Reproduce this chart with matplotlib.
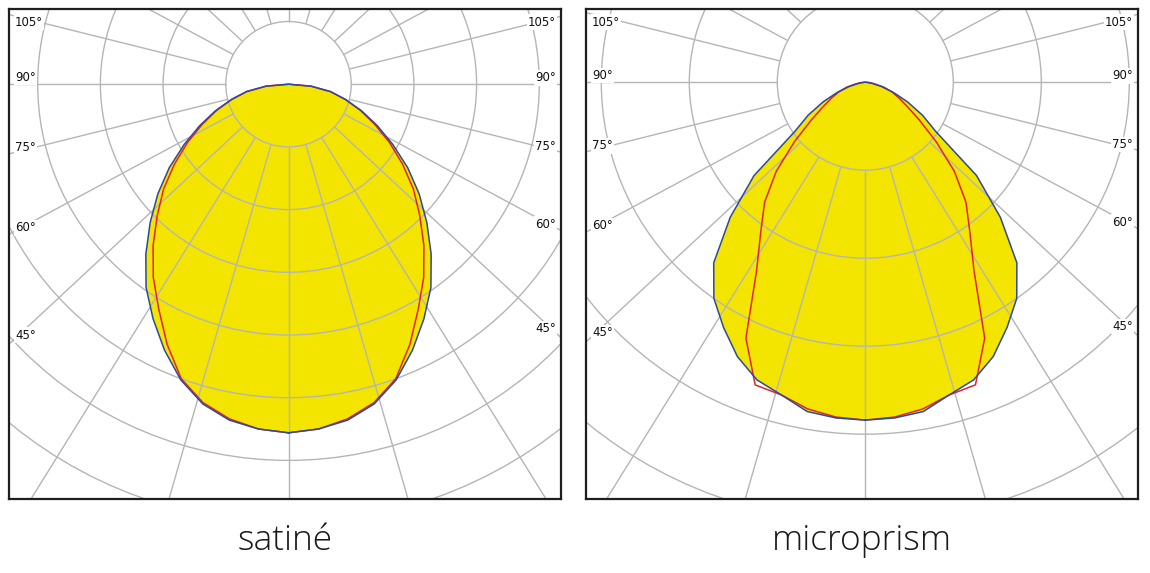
import numpy as np
import matplotlib.pyplot as plt
from matplotlib.patches import Circle

# angles from nadir (deg), 5 deg steps, curves are symmetric
angles = np.arange(0, 95, 5)

# satiné, grid step 50 (cd/klm)
satine_step = 50
satine_c0 = [278, 276, 272, 264, 251, 234, 216, 198, 177, 156, 136, 116, 96, 78, 62, 47, 34, 18, 0]
satine_c90 = [278, 276, 271, 263, 250, 229, 207, 188, 168, 148, 130, 111, 93, 76, 61, 47, 34, 18, 0]

# microprism, grid step 100 (cd/klm)
prism_step = 100
prism_c0 = [384, 383, 380, 368, 360, 344, 322, 300, 268, 217, 165, 98, 75, 53, 34, 19, 8, 2, 0]
prism_c90 = [384, 382, 377, 368, 366, 321, 247, 207, 178, 143, 105, 75, 55, 42, 32, 22, 11, 5, 0]

grid_angles = np.arange(0, 360, 15)
label_angles = [45, 60, 75, 90, 105]
titles = ["satiné", "microprism"]

yellow = "#F3E500"
blue = "#2B4A9F"
red = "#E3232B"
grey = "#B5B5B5"

W, H = 1150, 573
fig = plt.figure(figsize=(W / 100, H / 100), dpi=100)

# the diagram's radial lines are drawn slightly squashed vertically
squash = 0.93


def outline(vals):
    r = np.array(vals, dtype=float)
    t = np.radians(angles)
    x = np.concatenate([r * np.sin(t), -(r * np.sin(t))[::-1]])
    y = np.concatenate([-r * np.cos(t), -(r * np.cos(t))[::-1]])
    return x, y


def spoke(a):
    # unit direction of the grid line for angle a (deg from nadir)
    dx, dy = np.sin(np.radians(a)), -squash * np.cos(np.radians(a))
    n = np.hypot(dx, dy)
    return dx / n, dy / n


def panel(box, centre, ring_px, step, c0, c90, title):
    x0, y0, x1, y1 = box
    cx, cy = centre
    k = step / ring_px  # data units per pixel
    ax = fig.add_axes([x0 / W, 1 - y1 / H, (x1 - x0) / W, (y1 - y0) / H])
    ax.set_xlim((x0 - cx) * k, (x1 - cx) * k)
    ax.set_ylim(-(y1 - cy) * k, (cy - y0) * k)
    ax.set_aspect("auto")
    ax.set_xticks([])
    ax.set_yticks([])
    for s in ax.spines.values():
        s.set_linewidth(1.6)
        s.set_color("#1e1e1e")
        s.set_zorder(10)

    xb, yb = outline(c0)
    xr, yr = outline(c90)
    ax.fill(xb, yb, color=yellow, lw=0, zorder=1)

    # polar grid: rings and radial lines starting at the first ring
    for n in range(1, 16):
        ax.add_patch(Circle((0, 0), n * step, fill=False, ec=grey, lw=1.0, zorder=2))
    for a in grid_angles:
        ux, uy = spoke(a)
        ax.plot([step * ux, 20 * step * ux], [step * uy, 20 * step * uy],
                color=grey, lw=1.0, zorder=2, solid_capstyle="butt")

    ax.plot(xr, yr, color=red, lw=1.1, zorder=3)
    ax.plot(xb, yb, color=blue, lw=1.1, zorder=4)

    # angle labels at both edges
    top = (cy - y0 - 13) * k
    for a in label_angles:
        ang = np.radians(a + 1.4)
        for side in (-1, 1):
            if side < 0:
                xe = (x0 - cx + 16) * k
                xt = (x0 - cx + 6) * k
                ha = "left"
            else:
                xe = (x1 - cx - 16) * k
                xt = (x1 - cx - 5) * k
                ha = "right"
            yt = -abs(xe) / np.tan(ang)
            yt = min(yt, top)
            ax.text(xt, yt, f"{a}°", ha=ha, va="center", fontsize=8.5,
                    color="#111111", zorder=6,
                    bbox=dict(boxstyle="square,pad=0.1", fc="white", ec="none"))

    fig.text(((x0 + x1) / 2) / W, 1 - 541 / H, title, ha="center", va="center",
             fontsize=25.5, family="Open Sans", weight="light", color="#1a1a1a")


panel((9, 9, 561, 499), (288.5, 84.2), 62.7, satine_step, satine_c0, satine_c90, titles[0])
panel((586, 9, 1138, 499), (865.3, 82.2), 88.0, prism_step, prism_c0, prism_c90, titles[1])

fig.savefig("out.png", dpi=100)
